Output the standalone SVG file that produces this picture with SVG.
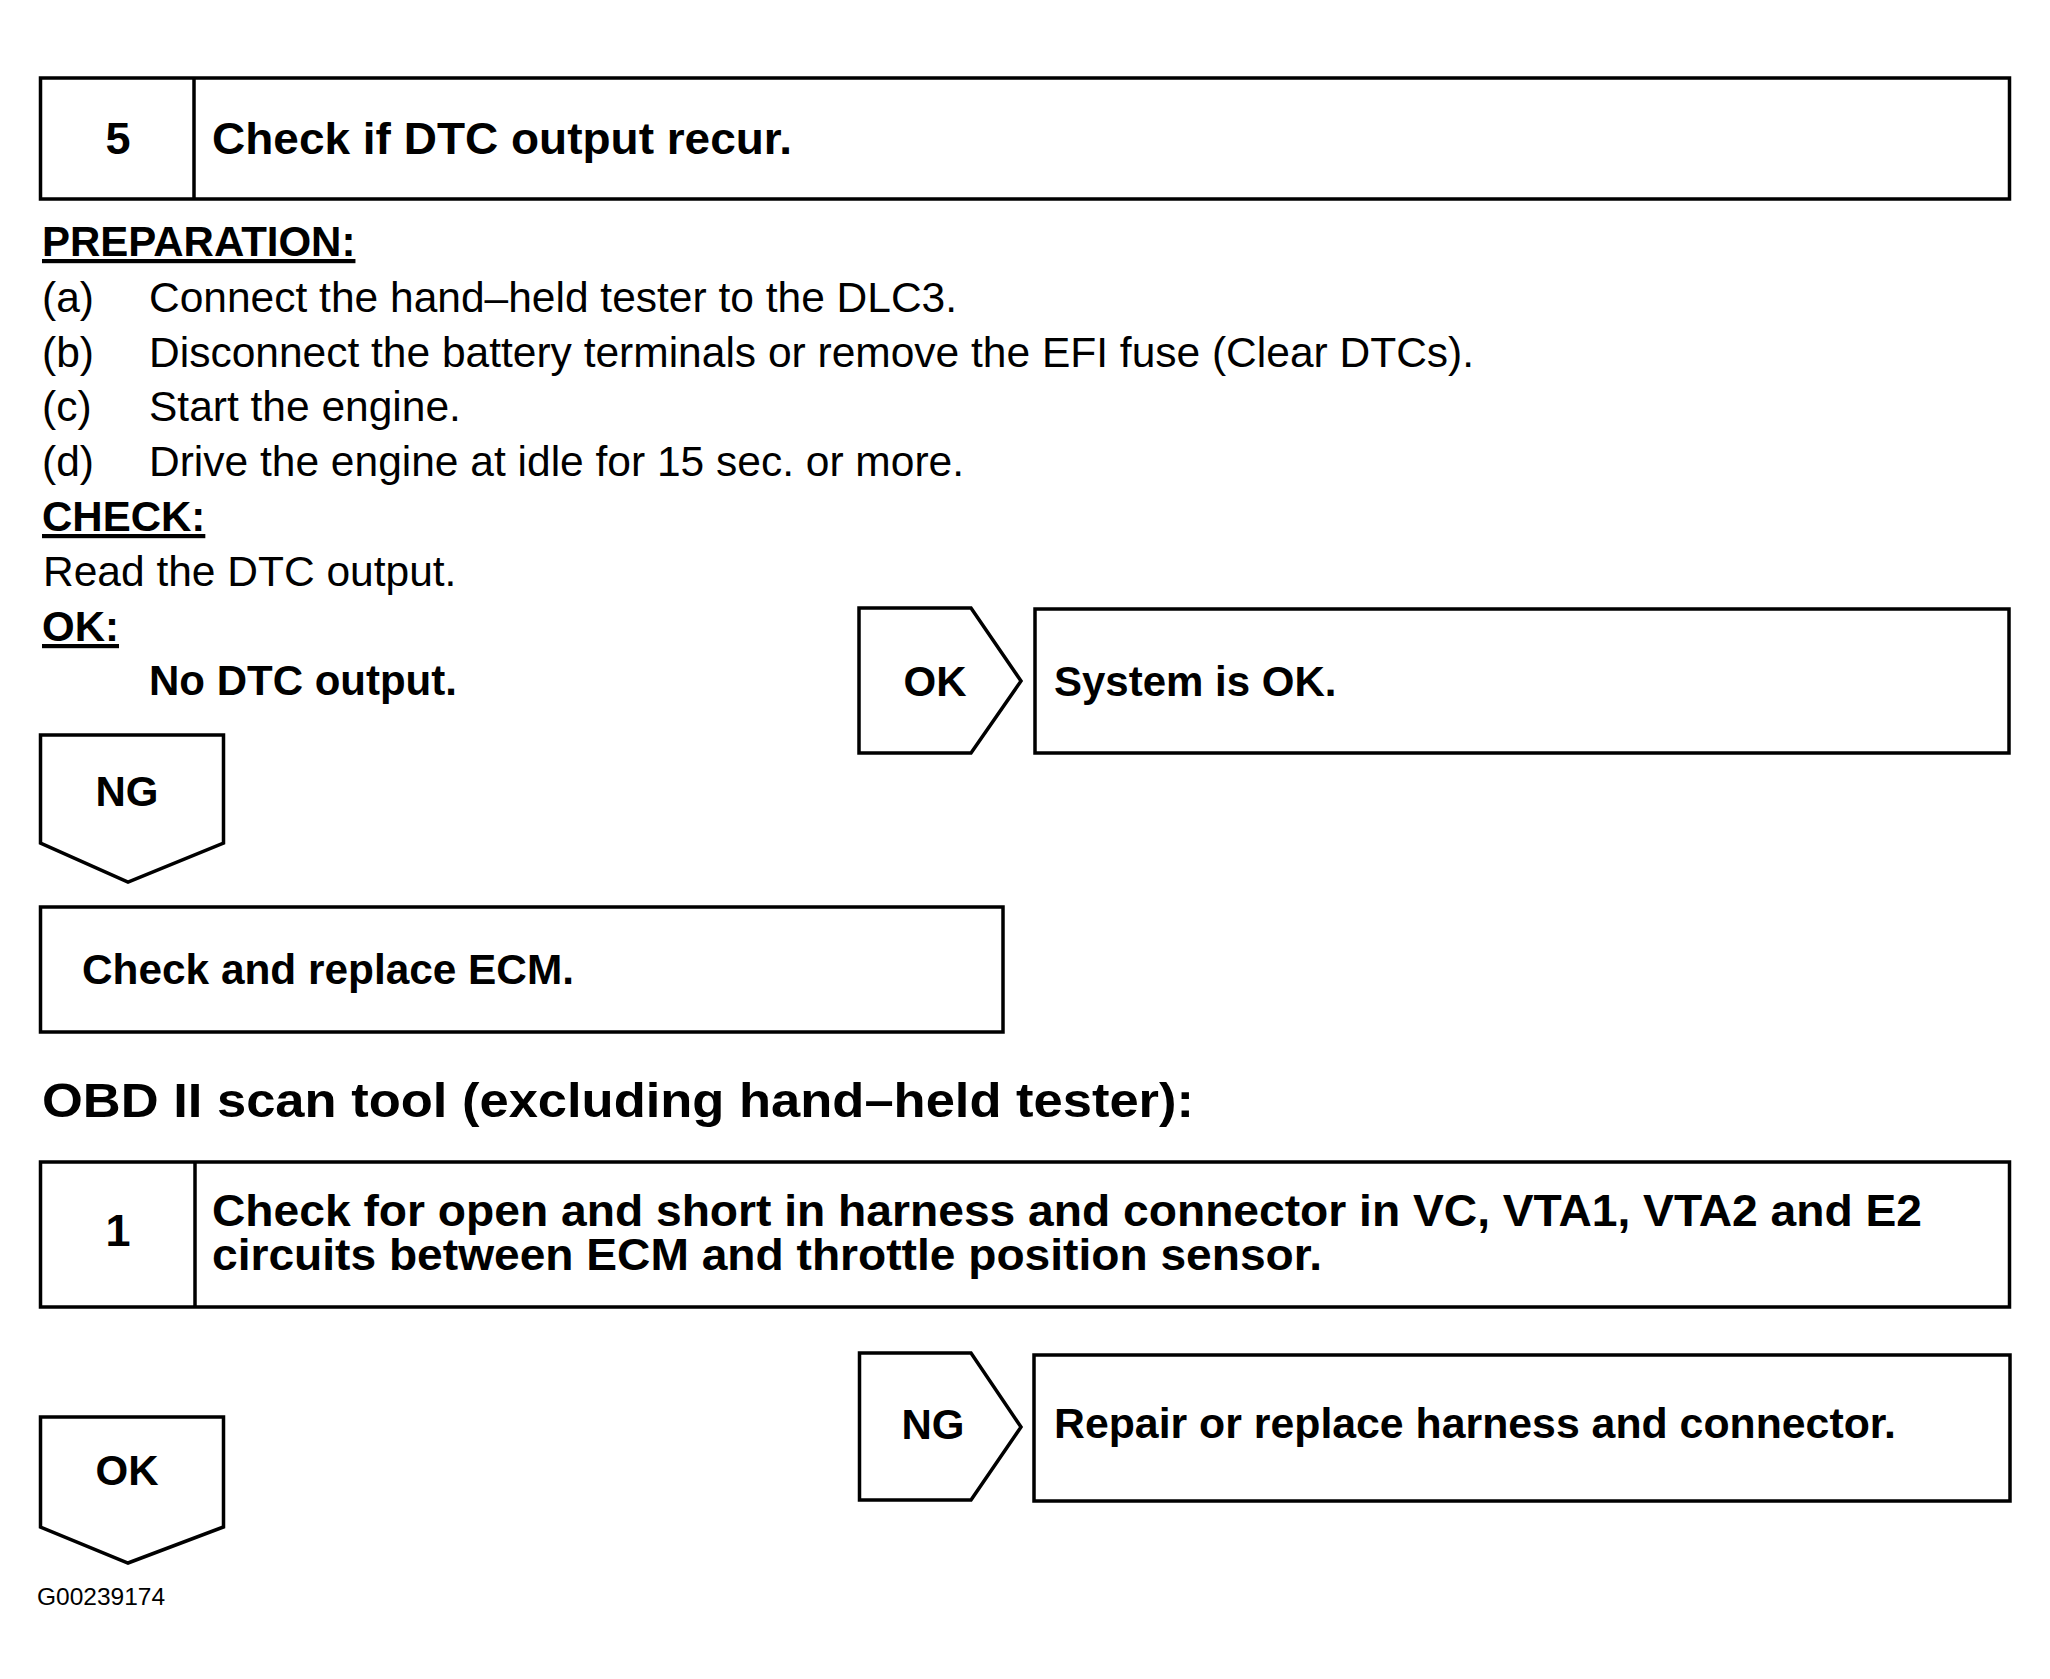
<svg xmlns="http://www.w3.org/2000/svg" width="2050" height="1679" viewBox="0 0 2050 1679">
<style>
  .box { fill: #fff; stroke: #000; stroke-width: 3.5; }
  .ln { stroke: #000; stroke-width: 3.5; fill: none; }
  text { font-family: "Liberation Sans", Arial, Helvetica, sans-serif; fill: #000; }
  .b45 { font-size: 45px; font-weight: bold; }
  .b42 { font-size: 42px; font-weight: bold; }
  .r42 { font-size: 42.5px; }
  .ul { text-decoration: underline; }
  .mid { text-anchor: middle; }
</style>
<rect width="2050" height="1679" fill="#fff"/>

<g id="step5">
  <rect class="box" x="40.5" y="78" width="1969" height="121"/>
  <line class="ln" x1="194" y1="78" x2="194" y2="199"/>
  <text class="b45 mid" x="118" y="154">5</text>
  <text class="b45" x="212" y="154" textLength="580" lengthAdjust="spacingAndGlyphs">Check if DTC output recur.</text>
</g>

<g id="instructions">
  <text class="b42 ul" x="42" y="256">PREPARATION:</text>
  <text class="r42" x="42" y="312">(a)</text>
  <text class="r42" x="149" y="312">Connect the hand–held tester to the DLC3.</text>
  <text class="r42" x="42" y="367">(b)</text>
  <text class="r42" x="149" y="367">Disconnect the battery terminals or remove the EFI fuse (Clear DTCs).</text>
  <text class="r42" x="42" y="421">(c)</text>
  <text class="r42" x="149" y="421">Start the engine.</text>
  <text class="r42" x="42" y="476">(d)</text>
  <text class="r42" x="149" y="476">Drive the engine at idle for 15 sec. or more.</text>
  <text class="b42 ul" x="42" y="531">CHECK:</text>
  <text class="r42" x="43" y="586">Read the DTC output.</text>
  <text class="b42 ul" x="42" y="641">OK:</text>
  <text class="b42" x="149" y="695">No DTC output.</text>
</g>

<g id="ok-arrow-1">
  <path class="box" d="M859,608 H971 L1021,681 L971,753 H859 Z"/>
  <text class="b42 mid" x="935" y="696">OK</text>
</g>

<g id="system-ok">
  <rect class="box" x="1035" y="609" width="974" height="144"/>
  <text class="b42" x="1054" y="696">System is OK.</text>
</g>

<g id="ng-arrow-1">
  <path class="box" d="M40.5,735 H223.5 V843 L128,882 L40.5,843 Z"/>
  <text class="b42 mid" x="127" y="806">NG</text>
</g>

<g id="replace-ecm">
  <rect class="box" x="40.5" y="907" width="962.5" height="125"/>
  <text class="b42" x="82" y="984" textLength="492" lengthAdjust="spacingAndGlyphs">Check and replace ECM.</text>
</g>

<text id="heading" x="42" y="1117" font-size="49" font-weight="bold" textLength="1152" lengthAdjust="spacingAndGlyphs">OBD II scan tool (excluding hand–held tester):</text>

<g id="step1">
  <rect class="box" x="40.5" y="1162" width="1969" height="145"/>
  <line class="ln" x1="195" y1="1162" x2="195" y2="1307"/>
  <text class="b45 mid" x="118" y="1246">1</text>
  <text class="b45"><tspan x="212" y="1226" textLength="1710" lengthAdjust="spacingAndGlyphs">Check for open and short in harness and connector in VC, VTA1, VTA2 and E2</tspan><tspan x="212" y="1270" textLength="1110" lengthAdjust="spacingAndGlyphs">circuits between ECM and throttle position sensor.</tspan></text>
</g>

<g id="ng-arrow-2">
  <path class="box" d="M859.5,1353 H971 L1021,1427 L971,1500 H859.5 Z"/>
  <text class="b42 mid" x="933" y="1439">NG</text>
</g>

<g id="repair">
  <rect class="box" x="1034" y="1355" width="976" height="146"/>
  <text class="b42" x="1054" y="1438" textLength="842" lengthAdjust="spacingAndGlyphs">Repair or replace harness and connector.</text>
</g>

<g id="ok-arrow-2">
  <path class="box" d="M40.5,1417 H223.5 V1527 L128,1563 L40.5,1527 Z"/>
  <text class="b42 mid" x="127" y="1485">OK</text>
</g>

<g id="connectors"></g>

<text id="figure-id" x="37" y="1605" font-size="24.5">G00239174</text>
</svg>
